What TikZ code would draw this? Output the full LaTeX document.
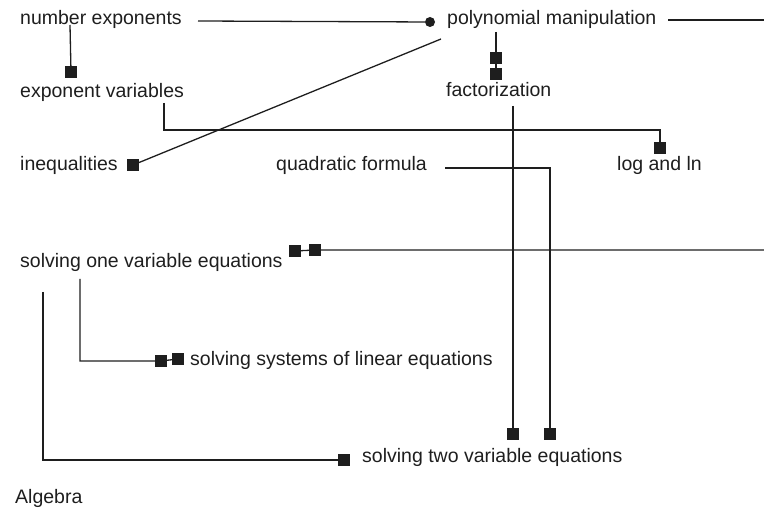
\documentclass[tikz,border=0pt]{standalone}
\usepackage{fontspec}
\setmainfont{Liberation Sans}
\usetikzlibrary{calc}
\definecolor{ink}{HTML}{1E1E1E}
\begin{document}
\begin{tikzpicture}[x=1pt,y=-1pt,
  lbl/.style={anchor=base west,inner sep=0pt,text=ink,font=\fontsize{19.5}{22}\selectfont},
  sq/.style={fill=ink,draw=none,minimum size=11.5pt,inner sep=0pt},
  dotnode/.style={circle,fill=ink,draw=none,minimum size=10pt,inner sep=0pt},
  conn/.style={draw=ink,line width=1.3pt}]
\useasboundingbox (0,0) rectangle (764,510);
% text nodes
\node[lbl] (ne)  at (20,25)  {number exponents};
\node[lbl] (pm)  at (447,25) {polynomial manipulation};
\node[lbl] (ev)  at (20,98)  {exponent variables};
\node[lbl] (fa)  at (446,97) {factorization};
\node[lbl] (iq)  at (20,171) {inequalities};
\node[lbl] (qf)  at (276,171) {quadratic formula};
\node[lbl] (ll)  at (617,171) {log and ln};
\node[lbl] (sov) at (20,268) {solving one variable equations};
\node[lbl] (sys) at (190,366) {solving systems of linear equations};
\node[lbl] (stv) at (362,463) {solving two variable equations};
\node[lbl] (alg) at (15,504) {Algebra};
% markers
\node[dotnode] (dot) at (430,22) {};
\node[sq] (sev)  at (71,72) {};
\node[sq] (siq)  at (133,165) {};
\node[sq] (sfa1) at (496,58) {};
\node[sq] (sfa2) at (496,74) {};
\node[sq] (sll)  at (660,148) {};
\node[sq] (stv1) at (513,434) {};
\node[sq] (stv2) at (550,434) {};
\node[sq] (sov1) at (295,251) {};
\node[sq] (sov2) at (315,250) {};
\node[sq] (sys1) at (161,361) {};
\node[sq] (sys2) at (178,359) {};
\node[sq] (stv3) at (344,460) {};
% helper coordinates
\coordinate (neR) at (198,21);
\coordinate (neD) at (70,25);
\coordinate (pmL) at (441,39);
\coordinate (pmD) at (496,32);
\coordinate (pmR) at (668,20);
\coordinate (edgeA) at (764,20);
\coordinate (evD) at (164,103);
\coordinate (turnLL) at (660,130);
\coordinate (faD) at (513,106);
\coordinate (qfR) at (445,168);
\coordinate (edgeB) at (764,250);
\coordinate (sovD1) at (80,279);
\coordinate (sovD2) at (43,292);
% connectors
\draw[conn] (neR) -- (dot);
\draw[conn] (neD) -- (sev);
\draw[conn] (pmL) -- (siq);
\draw[conn] (pmD) -- (sfa1) -- (sfa2);
\draw[conn] (pmR) -- (edgeA);
\draw[conn] (evD) |- (turnLL) -- (sll);
\draw[conn] (faD) -- (stv1);
\draw[conn] (qfR) -| (stv2);
\draw[conn] (sov1) -- (sov2) -- (edgeB);
\draw[conn] (sovD1) |- (sys1) -- (sys2);
\draw[conn] (sovD2) |- (stv3);
\end{tikzpicture}
\end{document}
